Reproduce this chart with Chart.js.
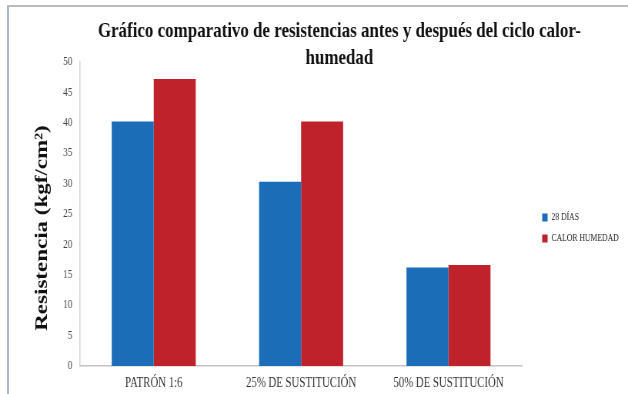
<!DOCTYPE html>
<html><head><meta charset="utf-8">
<script src="https://cdn.jsdelivr.net/npm/chart.js@4.4.0/dist/chart.umd.min.js"></script>
<style>
html,body{margin:0;padding:0;background:#fff;overflow:hidden;width:628px;height:394px;}
#wrap{position:absolute;left:0;top:0;width:816px;height:394px;transform:scaleX(0.7696);transform-origin:0 0;}
#lineL{position:absolute;left:7px;top:6px;width:2px;height:388px;background:#a9b6c8;}
#lineT{position:absolute;left:7px;top:5px;width:621px;height:2px;background:#bcbcbc;}
</style></head><body>
<div id="wrap"><canvas id="c" width="816" height="394"></canvas></div>
<div id="lineL"></div><div id="lineT"></div>
<script>
const titleLines = ['Gráfico comparativo de resistencias antes y después del ciclo calor-', 'humedad'];
const categories = ['PATRÓN 1:6', '25% DE SUSTITUCIÓN', '50% DE SUSTITUCIÓN'];
const seriesNames = ['28 DÍAS', 'CALOR HUMEDAD'];
const dias28 = [40.2, 30.3, 16.2];
const calorHumedad = [47.2, 40.2, 16.6];
const yAxisTitle = 'Resistencia (kgf/cm²)';
const yMin = 0, yMax = 50, yStep = 5;

const serif = '"Liberation Serif", "Times New Roman", serif';

const textPlugin = {
  id: 'extraText',
  beforeDraw(chart) {
    if (chart.legend) { chart.legend.left += 15; chart.legend.right += 15; }
  },
  afterDraw(chart) {
    const ctx = chart.ctx;
    ctx.save();
    ctx.font = 'bold 22px ' + serif;
    ctx.fillStyle = '#111';
    ctx.textAlign = 'center';
    ctx.textBaseline = 'middle';
    titleLines.forEach((t, i) => ctx.fillText(t, 441, 31 + i * 27));
    ctx.font = 'bold 23px ' + serif;
    ctx.translate(55, 228);
    ctx.rotate(-Math.PI / 2);
    ctx.fillText(yAxisTitle, 0, 0);
    ctx.restore();
  }
};

new Chart(document.getElementById('c'), {
  type: 'bar',
  data: {
    labels: categories,
    datasets: [
      { label: seriesNames[0], data: dias28, backgroundColor: '#1b6db8', borderWidth: 0 },
      { label: seriesNames[1], data: calorHumedad, backgroundColor: '#c0222b', borderWidth: 0 }
    ]
  },
  options: {
    responsive: false,
    devicePixelRatio: 1,
    animation: false,
    layout: { padding: { top: 62, right: 17, left: 0, bottom: 0 } },
    datasets: { bar: { categoryPercentage: 0.57, barPercentage: 1.0 } },
    plugins: {
      title: { display: false },
      tooltip: { enabled: false },
      legend: {
        position: 'right',
        labels: {
          boxWidth: 7, boxHeight: 8, padding: 11,
          color: '#222',
          font: { family: serif, size: 10 }
        }
      }
    },
    scales: {
      x: {
        grid: { display: false, drawTicks: false },
        border: { display: true, color: '#c4c4c4', width: 1.5 },
        ticks: { color: '#333', font: { family: serif, size: 14 }, padding: 9, maxRotation: 0 },
        afterFit(scale) { scale.height = 28; }
      },
      y: {
        min: yMin, max: yMax,
        grid: { display: false, drawTicks: false },
        border: { display: true, color: '#d4d4d4', width: 1.5 },
        ticks: { stepSize: yStep, color: '#444', font: { family: serif, size: 12 }, padding: 10 },
        afterFit(scale) { scale.width = 104; }
      }
    }
  },
  plugins: [textPlugin]
});
</script>
</body></html>
